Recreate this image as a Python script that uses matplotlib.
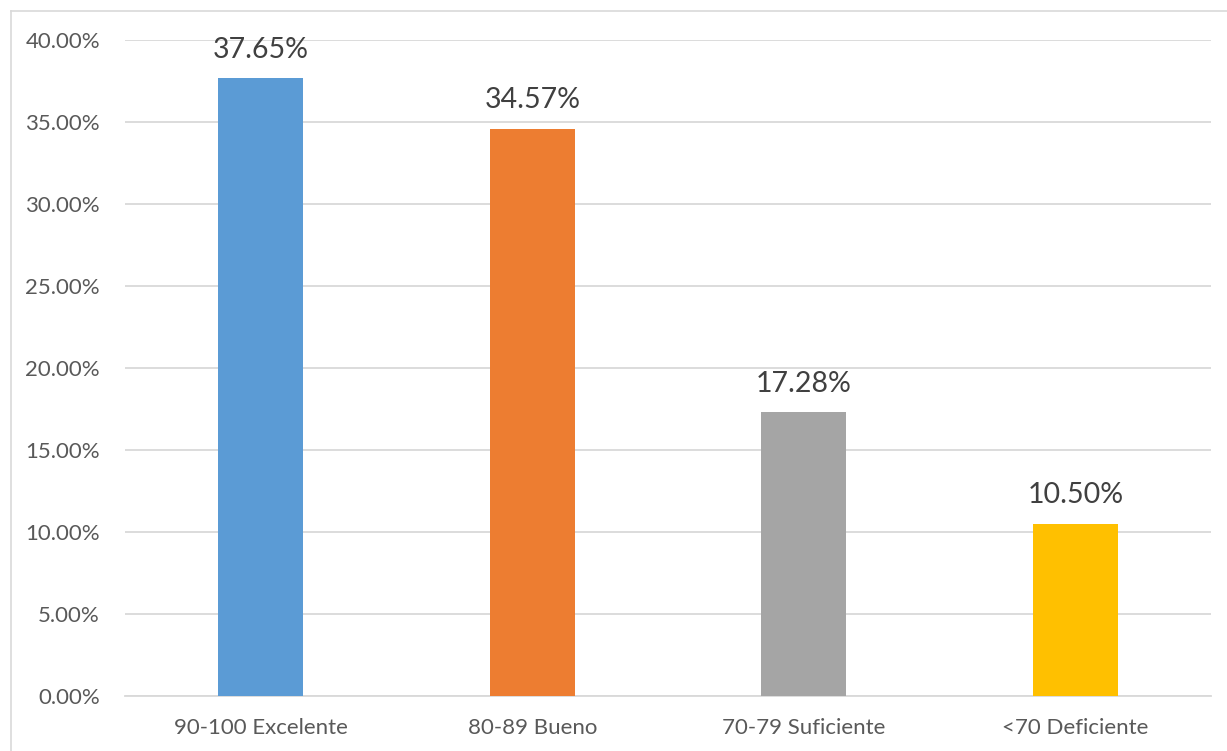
import matplotlib.pyplot as plt
from matplotlib.lines import Line2D
from matplotlib.ticker import FuncFormatter

# Data
categories = ['90-100 Excelente', '80-89 Bueno', '70-79 Suficiente', '<70 Deficiente']
values = [37.65, 34.57, 17.28, 10.50]
colors = ['#5B9BD5', '#ED7D31', '#A5A5A5', '#FFC000']

plt.rcParams['font.family'] = ['Lato', 'DejaVu Sans']

fig = plt.figure(figsize=(12.27, 7.51), dpi=100)
ax = fig.add_axes([0.1019, 0.0732, 0.8851, 0.8742])

x = range(len(categories))
bars = ax.bar(x, values, width=0.313, color=colors, zorder=3)

for xi, v in zip(x, values):
    ax.annotate(f'{v:.2f}%', (xi, v), xytext=(0, 11), textcoords='offset points',
                ha='center', va='bottom', fontsize=20.5, color='#404040')

ax.set_xlim(-0.5, 3.5)
ax.set_ylim(0, 40)
ax.set_yticks(range(0, 41, 5))
ax.yaxis.set_major_formatter(FuncFormatter(lambda y, p: f'{y:.2f}%'))
ax.set_xticks(list(x))
ax.set_xticklabels(categories)
ax.tick_params(axis='both', length=0, labelsize=16, colors='#595959')
ax.tick_params(axis='y', pad=18)
ax.tick_params(axis='x', pad=16)
ax.grid(axis='y', color='#D9D9D9', linewidth=1.3, zorder=0)
for s in ['top', 'right', 'left']:
    ax.spines[s].set_visible(False)
ax.spines['bottom'].set_color('#D9D9D9')
ax.spines['bottom'].set_linewidth(1.3)

# outer chart border (left and top edges visible)
fig.add_artist(Line2D([11 / 1227, 11 / 1227], [0, 1 - 11 / 751], color='#D9D9D9', lw=1.2))
fig.add_artist(Line2D([11 / 1227, 1], [1 - 11 / 751, 1 - 11 / 751], color='#D9D9D9', lw=1.2))

fig.savefig('out.png', dpi=100)
